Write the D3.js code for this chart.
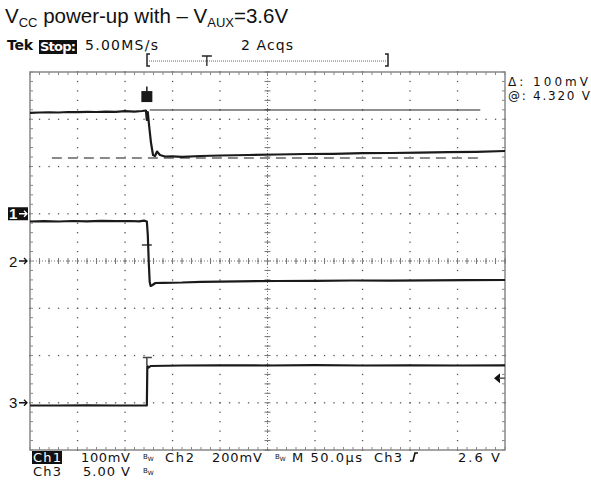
<!DOCTYPE html>
<html>
<head>
<meta charset="utf-8">
<script src="https://cdn.jsdelivr.net/npm/d3@7"></script>
<style>
  body { margin: 0; background: #fff; }
  svg { display: block; }
  .tek { font-family: "DejaVu Sans", sans-serif; font-size: 13px; fill: #111; }
</style>
</head>
<body>
<svg id="scope" width="591" height="482"></svg>
<script>
// time in microseconds (50 us/div, 10 div), levels in screen divisions (-4..4)
const upperTime = [0, 10, 20, 30, 40, 50, 60, 70, 80, 90, 100, 110, 118, 122, 123, 124, 125.3, 127.4, 129.5, 131.6, 133.7, 136.8, 142, 150, 160, 180, 200, 230, 260, 290, 320, 350, 380, 410, 440, 470, 500];
const upperDiv  = [3.137, 3.143, 3.147, 3.143, 3.153, 3.149, 3.158, 3.153, 3.162, 3.158, 3.170, 3.162, 3.175, 3.185, 2.984, 3.153, 2.878, 2.497, 2.243, 2.222, 2.317, 2.243, 2.212, 2.216, 2.205, 2.222, 2.233, 2.243, 2.254, 2.265, 2.269, 2.281, 2.286, 2.294, 2.303, 2.311, 2.328];

const middleTime = [0, 15, 30, 45, 60, 75, 90, 105, 115, 120, 123, 124, 125, 126, 127, 129, 132, 140, 160, 180, 220, 260, 300, 340, 380, 420, 460, 500];
const middleDiv  = [0.836, 0.842, 0.836, 0.847, 0.840, 0.851, 0.842, 0.847, 0.838, 0.855, 0.836, 0.550, -0.021, -0.444, -0.529, -0.508, -0.466, -0.461, -0.455, -0.440, -0.430, -0.423, -0.419, -0.413, -0.415, -0.408, -0.406, -0.402];

const lowerTime = [0, 30, 60, 90, 122, 123, 123.5, 125, 127, 160, 200, 250, 300, 350, 400, 450, 500];
const lowerDiv  = [-3.058, -3.058, -3.054, -3.058, -3.058, -3.058, -2.222, -2.254, -2.222, -2.212, -2.207, -2.212, -2.205, -2.212, -2.207, -2.212, -2.207];

// channel ground markers (divisions)
const markerLabels = ["1", "2", "3"];
const markerDivs = [1, 0, -3];

// cursors
const cursorDivs = [3.196, 2.180];
const cursorStart = [126, 23];
const cursorEnd = 474;

const triggerTime = 123;
const ch3VoltsPerDiv = 5.0;
const triggerLevel = 2.6;

function drawScope(){
    const svg = d3.select('#scope');

    const x = d3.scaleLinear().domain([0, 500]).range([30, 505]);
    const y = d3.scaleLinear().domain([-4, 4]).range([450, 72]);

    const minorT = d3.range(0, 500.001, 10);
    const minorD = d3.range(-4, 4.001, 0.2);

    // ---- title
    const title = svg.append("text")
        .attr("x", 5).attr("y", 23)
        .style("font-family", "'Liberation Sans', Arial, sans-serif")
        .style("font-size", "20.5px")
        .style("fill", "#111");
    title.append("tspan").text("V");
    title.append("tspan").attr("dy", 4).style("font-size", "13px").text("CC");
    title.append("tspan").attr("dy", -4).text(" power-up with \u2013 V");
    title.append("tspan").attr("dy", 4).style("font-size", "13px").text("AUX");
    title.append("tspan").attr("dy", -4).text("=3.6V");

    // ---- header line
    svg.append("text").attr("class", "tek").attr("x", 7).attr("y", 50)
        .style("font-weight", "bold").style("font-size", "14px").attr("textLength", 26).text("Tek");
    svg.append("rect").attr("x", 39).attr("y", 40).attr("width", 38).attr("height", 14).attr("fill", "#111");
    svg.append("text").attr("class", "tek").attr("x", 40).attr("y", 51)
        .style("font-weight", "bold").style("fill", "#fff").attr("textLength", 36).text("Stop:");
    svg.append("text").attr("class", "tek").attr("x", 85).attr("y", 50)
        .style("font-size", "14px").attr("textLength", 73).text("5.00MS/s");
    svg.append("text").attr("class", "tek").attr("x", 241).attr("y", 50)
        .style("font-size", "14px").attr("textLength", 52).text("2 Acqs");

    // record bracket with trigger position
    const rec = svg.append("g").attr("stroke", "#222").attr("fill", "none");
    rec.append("path").attr("d", "M150,54 L147,54 L147,66 L150,66").attr("stroke-width", 1.5);
    rec.append("path").attr("d", "M385,54 L388,54 L388,66 L385,66").attr("stroke-width", 1.5);
    rec.append("line").attr("x1", 149).attr("x2", 386).attr("y1", 61).attr("y2", 61)
        .attr("stroke-dasharray", "1,1").attr("stroke", "#666");
    const tx = x(triggerTime) + 60;
    rec.append("path").attr("d", `M${tx-5},56 L${tx+5},56 M${tx},56 L${tx},66`).attr("stroke-width", 1.3);

    // ---- graticule
    const grat = svg.append("g");
    grat.append("rect").attr("x", x(0)).attr("y", y(4))
        .attr("width", x(500) - x(0)).attr("height", y(-4) - y(4))
        .attr("fill", "none").attr("stroke", "#888").attr("stroke-width", 1.5);

    // dotted major lines
    d3.range(50, 500, 50).forEach(t => {
        minorD.forEach(d => {
            grat.append("rect").attr("x", x(t) - 0.6).attr("y", y(d) - 0.6)
                .attr("width", 1.3).attr("height", 1.3).attr("fill", "#555");
        });
    });
    d3.range(-3, 4, 1).forEach(d => {
        minorT.forEach(t => {
            grat.append("rect").attr("x", x(t) - 0.6).attr("y", y(d) - 0.6)
                .attr("width", 1.3).attr("height", 1.3).attr("fill", "#555");
        });
    });

    // centre lines with minor ticks
    grat.append("line").attr("x1", x(0)).attr("x2", x(500)).attr("y1", y(0)).attr("y2", y(0))
        .attr("stroke", "#777").attr("stroke-dasharray", "1,2");
    grat.append("line").attr("x1", x(250)).attr("x2", x(250)).attr("y1", y(4)).attr("y2", y(-4))
        .attr("stroke", "#777").attr("stroke-dasharray", "1,2");
    minorT.forEach(t => {
        grat.append("line").attr("x1", x(t)).attr("x2", x(t)).attr("y1", y(0) - 3).attr("y2", y(0) + 3)
            .attr("stroke", "#777");
        // border ticks top/bottom
        grat.append("line").attr("x1", x(t)).attr("x2", x(t)).attr("y1", y(4)).attr("y2", y(4) + 3).attr("stroke", "#888");
        grat.append("line").attr("x1", x(t)).attr("x2", x(t)).attr("y1", y(-4)).attr("y2", y(-4) - 3).attr("stroke", "#888");
    });
    minorD.forEach(d => {
        grat.append("line").attr("x1", x(250) - 3).attr("x2", x(250) + 3).attr("y1", y(d)).attr("y2", y(d))
            .attr("stroke", "#777");
        grat.append("line").attr("x1", x(0)).attr("x2", x(0) + 3).attr("y1", y(d)).attr("y2", y(d)).attr("stroke", "#888");
        grat.append("line").attr("x1", x(500)).attr("x2", x(500) - 3).attr("y1", y(d)).attr("y2", y(d)).attr("stroke", "#888");
    });

    // ---- cursors
    svg.append("line").attr("x1", x(cursorStart[0])).attr("x2", x(cursorEnd))
        .attr("y1", y(cursorDivs[0])).attr("y2", y(cursorDivs[0]))
        .attr("stroke", "#222").attr("stroke-width", 1.2);
    svg.append("line").attr("x1", x(cursorStart[1])).attr("x2", x(cursorEnd))
        .attr("y1", y(cursorDivs[1])).attr("y2", y(cursorDivs[1]))
        .attr("stroke", "#8a8a8a").attr("stroke-width", 2).attr("stroke-dasharray", "10,6");

    // ---- traces
    const line = d3.line().x(d => x(d[0])).y(d => y(d[1]));
    const traces = [
        d3.zip(upperTime, upperDiv),
        d3.zip(middleTime, middleDiv),
        d3.zip(lowerTime, lowerDiv)
    ];
    svg.append("g").selectAll("path")
        .data(traces)
        .enter().append("path")
        .attr("d", line)
        .attr("fill", "none")
        .attr("stroke", "#1a1a1a")
        .attr("stroke-width", 2.2)
        .attr("stroke-linejoin", "round");

    // marks on the traces
    svg.append("rect").attr("x", x(triggerTime) - 5.5).attr("y", y(3.48) - 5.5)
        .attr("width", 11).attr("height", 11).attr("fill", "#1a1a1a");
    svg.append("line").attr("x1", x(triggerTime)).attr("x2", x(triggerTime))
        .attr("y1", y(3.48) - 10).attr("y2", y(3.48)).attr("stroke", "#1a1a1a").attr("stroke-width", 1.5);
    svg.append("line").attr("x1", x(triggerTime) - 5).attr("x2", x(triggerTime) + 5)
        .attr("y1", y(0.339)).attr("y2", y(0.339)).attr("stroke", "#1a1a1a").attr("stroke-width", 1.3);
    svg.append("path")
        .attr("d", `M${x(triggerTime) - 4},${y(-2.042)} L${x(triggerTime) + 5},${y(-2.042)} M${x(triggerTime)},${y(-2.042)} L${x(triggerTime)},${y(-2.2)}`)
        .attr("stroke", "#444").attr("stroke-width", 1.5).attr("fill", "none");

    // ---- channel markers on the left
    markerLabels.forEach((lab, i) => {
        const yy = y(markerDivs[i]);
        const boxed = i === 0;
        if (boxed) {
            svg.append("rect").attr("x", 8).attr("y", yy - 6.5).attr("width", 20).attr("height", 13).attr("fill", "#111");
        }
        const col = boxed ? "#fff" : "#111";
        svg.append("text").attr("x", 9).attr("y", yy + 5.5)
            .style("font-family", "'Liberation Sans', Arial, sans-serif")
            .style("font-size", "15px").style("font-weight", boxed ? "bold" : "normal")
            .style("fill", col).text(lab);
        svg.append("path").attr("d", `M19,${yy} L27,${yy} M24,${yy - 3} L27,${yy} L24,${yy + 3}`)
            .attr("stroke", col).attr("stroke-width", 1.3).attr("fill", "none");
    });

    // trigger level arrow on the right
    const ty = y(markerDivs[2] + triggerLevel / ch3VoltsPerDiv);
    svg.append("path").attr("d", `M${x(500) - 11},${ty} L${x(500) - 5},${ty - 5} L${x(500) - 5},${ty + 5} Z`).attr("fill", "#111");
    svg.append("line").attr("x1", x(500) - 6).attr("x2", x(500)).attr("y1", ty).attr("y2", ty).attr("stroke", "#555").attr("stroke-width", 1.5);

    // ---- cursor readout
    svg.append("text").attr("class", "tek").attr("x", 508).attr("y", 86)
        .style("font-size", "12px").attr("textLength", 80).text("\u0394: 100mV");
    svg.append("text").attr("class", "tek").attr("x", 508).attr("y", 100)
        .style("font-size", "12px").attr("textLength", 82).text("@: 4.320 V");

    // ---- bottom readout
    svg.append("rect").attr("x", 32).attr("y", 451).attr("width", 30).attr("height", 13).attr("fill", "#111");
    const bottom = [
        ["Ch1", 33, 462, 28, "#fff"],
        ["100mV", 81, 462, 49, "#111"],
        ["Ch2", 165, 462, 29, "#111"],
        ["200mV", 212, 462, 50, "#111"],
        ["M 50.0\u00b5s", 292, 462, 70, "#111"],
        ["Ch3", 374, 462, 28, "#111"],
        ["2.6 V", 458, 462, 42, "#111"],
        ["Ch3", 33, 476, 28, "#111"],
        ["5.00 V", 83, 476, 47, "#111"]
    ];
    bottom.forEach(b => {
        svg.append("text").attr("class", "tek").attr("x", b[1]).attr("y", b[2])
            .attr("textLength", b[3]).style("fill", b[4]).text(b[0]);
    });
    // bandwidth-limit marks
    [[143, 462], [275, 462], [143, 476]].forEach(p => {
        const t = svg.append("text").attr("class", "tek").attr("x", p[0]).attr("y", p[1] - 3)
            .style("font-size", "7px");
        t.append("tspan").text("B");
        t.append("tspan").attr("dy", 2).style("font-size", "6px").text("W");
    });
    // rising slope symbol
    svg.append("path").attr("d", "M410,461 L413,461 L415,453 L418,453")
        .attr("stroke", "#111").attr("stroke-width", 1.6).attr("fill", "none");
}

drawScope();
</script>
</body>
</html>
